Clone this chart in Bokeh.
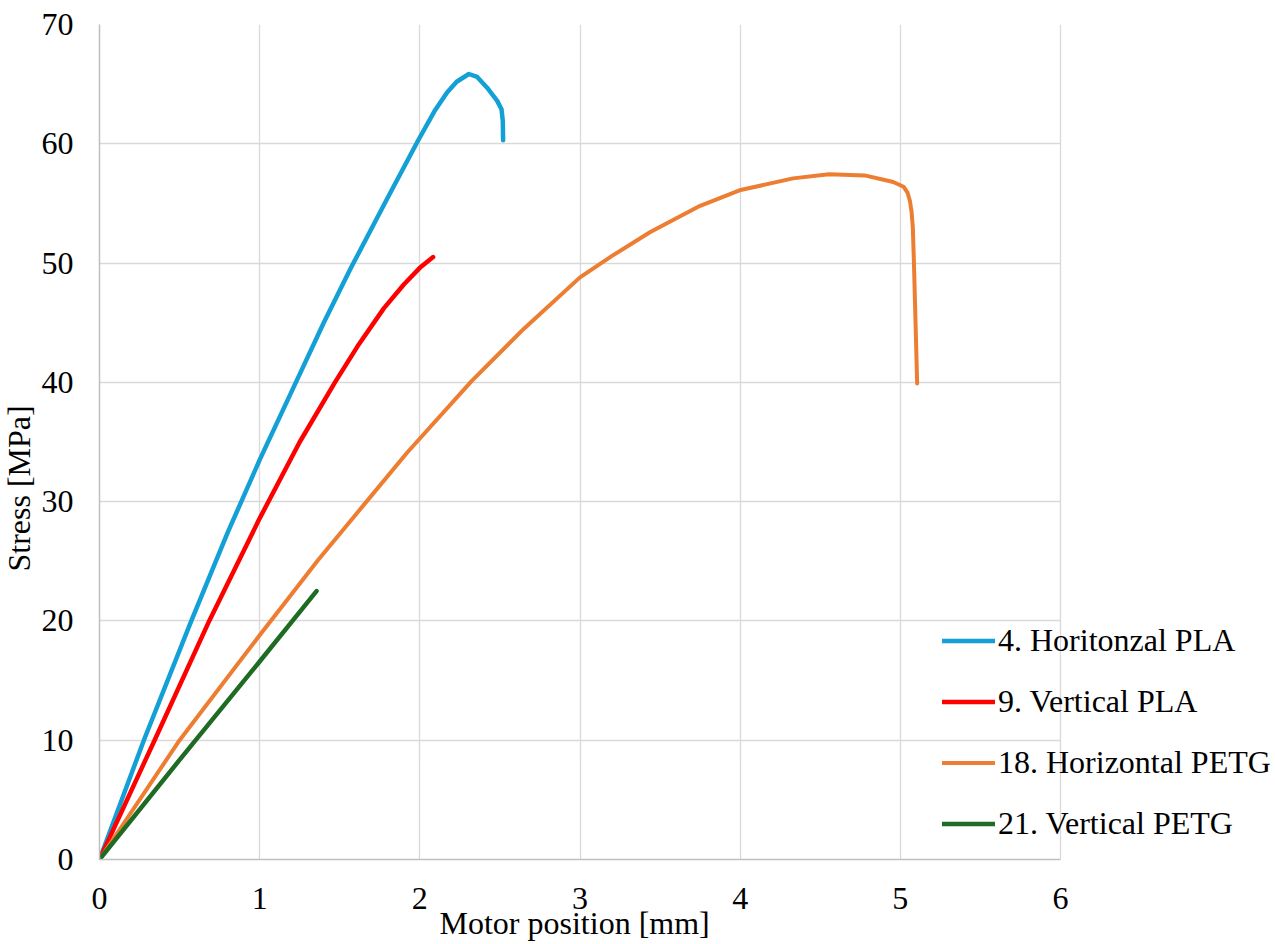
from bokeh.plotting import figure
from bokeh.models import Range1d, FixedTicker, Legend, LegendItem, Title, Grid
from bokeh.embed import file_html
from bokeh.resources import INLINE

# ---- data ----
x_ticks = [0, 1, 2, 3, 4, 5, 6]
y_ticks = [0, 10, 20, 30, 40, 50, 60, 70]

series_names = ["4. Horitonzal PLA", "9. Vertical PLA", "18. Horizontal PETG", "21. Vertical PETG"]
series_colors = ["#13a0d6", "#ff0000", "#ed7d31", "#1e6b24"]

blue_x = [0, 0.28, 0.57, 0.80, 1.0, 1.24, 1.40, 1.57, 1.80, 1.99, 2.09, 2.17, 2.23, 2.306, 2.358, 2.42, 2.483, 2.51, 2.518, 2.52]
blue_y = [0, 10.1, 19.9, 27.4, 33.5, 40.4, 45.0, 49.6, 55.5, 60.3, 62.7, 64.3, 65.2, 65.85, 65.6, 64.7, 63.6, 62.9, 61.9, 60.3]

red_x = [0, 0.344, 0.685, 1.0, 1.25, 1.47, 1.61, 1.775, 1.90, 2.0, 2.083]
red_y = [0, 10, 20, 28.6, 35.0, 40.0, 43.0, 46.2, 48.2, 49.6, 50.5]

orange_x = [0, 0.5, 1.0, 1.365, 1.667, 1.92, 2.323, 2.65, 3.0, 3.2, 3.439, 3.75, 3.996, 4.33, 4.554, 4.777, 4.956, 5.02, 5.045, 5.06, 5.07, 5.078, 5.085, 5.095, 5.105]
orange_y = [0, 10.0, 18.8, 25.1, 30.0, 34.1, 40.1, 44.5, 48.8, 50.6, 52.6, 54.8, 56.1, 57.1, 57.45, 57.35, 56.8, 56.4, 55.9, 55.2, 54.3, 53.0, 50.0, 45.0, 39.9]

green_x = [0, 0.5, 1.0, 1.355]
green_y = [0, 8.35, 16.6, 22.5]

FONT = "Liberation Serif"
FS = "32px"

W, H = 1275, 944
FRAME_L, FRAME_T, FRAME_B = 99, 24, 859
AXIS_R = 1060  # pixel where x = 6 sits
x_end = x_ticks[-1] * (W - FRAME_L) / (AXIS_R - FRAME_L)

p = figure(width=W, height=H, x_range=Range1d(0, x_end), y_range=Range1d(0, y_ticks[-1]),
           output_backend="svg", toolbar_location=None,
           min_border_left=FRAME_L, min_border_right=0, min_border_top=FRAME_T,
           min_border_bottom=H - FRAME_B)
p.outline_line_color = None
p.background_fill_color = "white"

p.xaxis.ticker = FixedTicker(ticks=x_ticks)
p.yaxis.ticker = FixedTicker(ticks=y_ticks)
p.xaxis.bounds = (x_ticks[0], x_ticks[-1])
for ax in (p.xaxis, p.yaxis):
    ax.axis_line_color = "#bfbfbf"
    ax.axis_line_width = 1.5
    ax.major_tick_line_color = None
    ax.minor_tick_line_color = None
    ax.major_tick_out = 0
    ax.major_tick_in = 0
    ax.major_label_text_font = FONT
    ax.major_label_text_font_size = FS
    ax.major_label_text_color = "black"
p.xaxis.major_label_standoff = 28
p.yaxis.major_label_standoff = 26

p.grid.grid_line_color = "#d9d9d9"
p.grid.grid_line_width = 1.3
has_cross = "cross_bounds" in Grid.properties()
if has_cross:
    p.ygrid.cross_bounds = (x_ticks[0], x_ticks[-1])
else:
    p.ygrid.grid_line_color = None
    p.segment(x0=[x_ticks[0]] * len(y_ticks), y0=y_ticks, x1=[x_ticks[-1]] * len(y_ticks), y1=y_ticks,
              line_color="#d9d9d9", line_width=1.3)

data = [(blue_x, blue_y, 4.5), (red_x, red_y, 4.5), (orange_x, orange_y, 4), (green_x, green_y, 4.5)]
items = []
for (xs, ys, lw), name, col in zip(data, series_names, series_colors):
    r = p.line(xs, ys, line_color=col, line_width=lw, line_cap="round", line_join="round")
    items.append(LegendItem(label=name, renderers=[r]))

legend = Legend(items=items, location=(843, 17))
legend.background_fill_alpha = 0
legend.border_line_alpha = 0
legend.padding = 0
legend.margin = 0
legend.spacing = 24
legend.label_standoff = 3
legend.glyph_width = 53
legend.glyph_height = 37
legend.label_height = 37
legend.label_text_font = FONT
legend.label_text_font_size = FS
legend.label_text_color = "black"
p.add_layout(legend)

ytitle = Title(text="Stress [MPa]", align="left", offset=288, standoff=0, vertical_align="top",
               text_font=FONT, text_font_size=FS, text_font_style="normal", text_color="black")
xtitle = Title(text="Motor position [mm]", align="left", offset=340, standoff=-15,
               vertical_align="middle",
               text_font=FONT, text_font_size=FS, text_font_style="normal", text_color="black")
p.add_layout(ytitle, "left")
p.add_layout(xtitle, "below")

open("out.html", "w").write(file_html(p, INLINE))
